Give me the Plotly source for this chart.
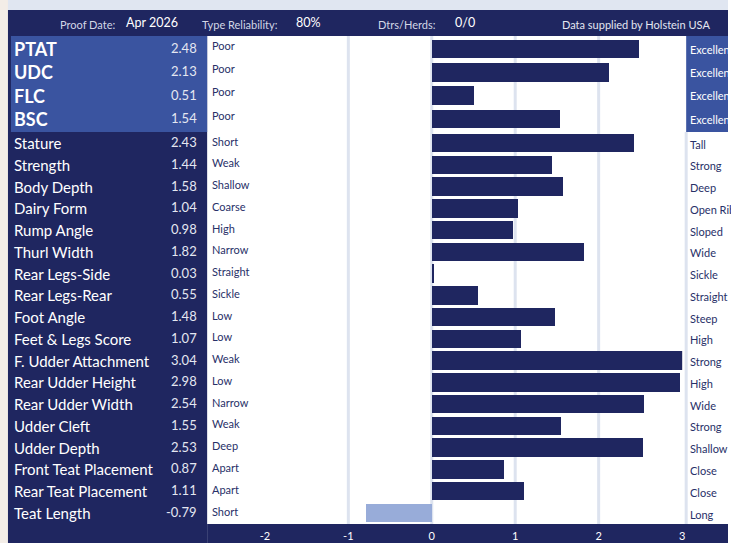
import plotly.graph_objects as go

W, H = 731, 543

# summary indexes (top block)
main_traits = ["PTAT", "UDC", "FLC", "BSC"]
main_values = [2.48, 2.13, 0.51, 1.54]
main_low = ["Poor", "Poor", "Poor", "Poor"]
main_high = ["Excellent", "Excellent", "Excellent", "Excellent"]

# linear traits
traits = ["Stature", "Strength", "Body Depth", "Dairy Form", "Rump Angle", "Thurl Width",
          "Rear Legs-Side", "Rear Legs-Rear", "Foot Angle", "Feet & Legs Score",
          "F. Udder Attachment", "Rear Udder Height", "Rear Udder Width", "Udder Cleft",
          "Udder Depth", "Front Teat Placement", "Rear Teat Placement", "Teat Length"]
values = [2.43, 1.44, 1.58, 1.04, 0.98, 1.82, 0.03, 0.55, 1.48, 1.07,
          3.04, 2.98, 2.54, 1.55, 2.53, 0.87, 1.11, -0.79]
low_labels = ["Short", "Weak", "Shallow", "Coarse", "High", "Narrow", "Straight", "Sickle", "Low",
              "Low", "Weak", "Low", "Narrow", "Weak", "Deep", "Apart", "Apart", "Short"]
high_labels = ["Tall", "Strong", "Deep", "Open Rib", "Sloped", "Wide", "Sickle", "Straight", "Steep",
               "High", "Strong", "High", "Wide", "Strong", "Shallow", "Close", "Close", "Long"]

header_labels = ["Proof Date:", "Type Reliability:", "Dtrs/Herds:"]
header_values = ["Apr 2026", "80%", "0/0"]
source = "Data supplied by Holstein USA"
x_ticks = [-2, -1, 0, 1, 2, 3]
grid_vals = [-1, 0, 1, 2]

NAVY = "#1f2660"
BLUE = "#3a54a0"
LIGHT = "#98acd9"
GRID = "#dde3ef"
LABEL = "#283068"
FONT = "Lato, Roboto, sans-serif"


def px(x):
    return x / W


def py(y):
    return 1 - y / H


def bar_colors(vals):
    return [NAVY if v >= 0 else LIGHT for v in vals]


fig = go.Figure()
fig.add_trace(go.Bar(x=main_values, y=main_traits, orientation="h", xaxis="x", yaxis="y",
                     marker=dict(color=bar_colors(main_values), line_width=0), width=0.79,
                     hoverinfo="skip"))
fig.add_trace(go.Bar(x=values, y=traits, orientation="h", xaxis="x", yaxis="y2",
                     marker=dict(color=bar_colors(values), line_width=0), width=0.85,
                     hoverinfo="skip"))

shapes = [
    dict(type="rect", xref="paper", yref="paper", x0=0, x1=px(8), y0=0, y1=1,
         fillcolor="#f3ede7", line_width=0, layer="below"),
    dict(type="rect", xref="paper", yref="paper", x0=px(8), x1=1, y0=py(10), y1=1,
         fillcolor="#e0e6f1", line_width=0, layer="below"),
    dict(type="rect", xref="paper", yref="paper", x0=px(8), x1=1, y0=py(36), y1=py(10),
         fillcolor=NAVY, line_width=0, layer="below"),
    dict(type="rect", xref="paper", yref="paper", x0=px(8), x1=px(208), y0=0, y1=py(36),
         fillcolor=NAVY, line_width=0, layer="below"),
    dict(type="rect", xref="paper", yref="paper", x0=px(208), x1=1, y0=0, y1=py(524),
         fillcolor=NAVY, line_width=0, layer="below"),
    dict(type="rect", xref="paper", yref="paper", x0=px(11), x1=px(208), y0=py(132), y1=py(36),
         fillcolor=BLUE, line_width=0, layer="below"),
    dict(type="rect", xref="paper", yref="paper", x0=px(689), x1=1, y0=py(132), y1=py(36),
         fillcolor=BLUE, line_width=0, layer="below"),
    dict(type="line", xref="paper", yref="paper", x0=px(689), x1=px(689), y0=py(524), y1=py(132),
         line=dict(color=GRID, width=3), layer="below"),
]
for g in grid_vals:
    shapes.append(dict(type="line", xref="x", yref="paper", x0=g, x1=g, y0=py(524), y1=py(36),
                       line=dict(color=GRID, width=3), layer="below"))

ann = []
# header
for lab, val, lx, vx in zip(header_labels, header_values, [58, 201, 378], [125, 295, 455]):
    ann.append(dict(text=lab, x=px(lx), y=py(25), font=dict(size=11, color="#d3d7e6")))
    ann.append(dict(text=val, x=px(vx), y=py(22), font=dict(size=12.5, color="white")))
ann.append(dict(text=source, x=px(562), y=py(25), font=dict(size=11, color="#e4e7f1")))

for names, vals, lows, highs, yref, big in [
    (main_traits, main_values, main_low, main_high, "y", True),
    (traits, values, low_labels, high_labels, "y2", False),
]:
    for n, v, lo, hi in zip(names, vals, lows, highs):
        ann.append(dict(text="<b>%s</b>" % n if big else n, x=px(12), y=n, yref=yref,
                        font=dict(size=18 if big else 15, color="white")))
        ann.append(dict(text="%.2f" % v, x=px(200), y=n, yref=yref, xanchor="right", yshift=1,
                        font=dict(size=13, color="#e4e7f1")))
        ann.append(dict(text=lo, x=px(211), y=n, yref=yref, yshift=4 if big else 2,
                        font=dict(size=11, color=LABEL)))
        ann.append(dict(text=hi, x=px(691), y=n, yref=yref, yshift=0 if big else -1,
                        font=dict(size=11, color="white" if big else LABEL)))

for a in ann:
    a.setdefault("xref", "paper")
    a.setdefault("yref", "paper")
    a.setdefault("xanchor", "left")
    a["yanchor"] = "middle"
    a["showarrow"] = False
    a["font"]["family"] = FONT

fig.update_layout(
    width=W, height=H, autosize=False,
    margin=dict(l=0, r=0, t=0, b=0),
    paper_bgcolor="white", plot_bgcolor="rgba(0,0,0,0)",
    showlegend=False, bargap=0,
    font=dict(family=FONT),
    xaxis=dict(domain=[px(209), px(685)], range=[-2.68, 3.001], anchor="y2",
               tickvals=x_ticks, ticktext=[str(t) for t in x_ticks],
               tickfont=dict(size=11, color="white", family=FONT), ticklabelstandoff=4,
               showgrid=False, zeroline=False, showline=False, ticks="", fixedrange=True),
    yaxis=dict(domain=[py(132), py(36)], autorange="reversed", anchor="x",
               showticklabels=False, showgrid=False, zeroline=False, fixedrange=True),
    yaxis2=dict(domain=[py(524), py(132)], autorange="reversed", anchor="x",
                showticklabels=False, showgrid=False, zeroline=False, fixedrange=True),
    shapes=shapes,
    annotations=ann,
)

fig.write_html("out.html", config={"displayModeBar": False},
               post_script="document.body.style.margin='0';document.body.style.overflow='hidden';")
